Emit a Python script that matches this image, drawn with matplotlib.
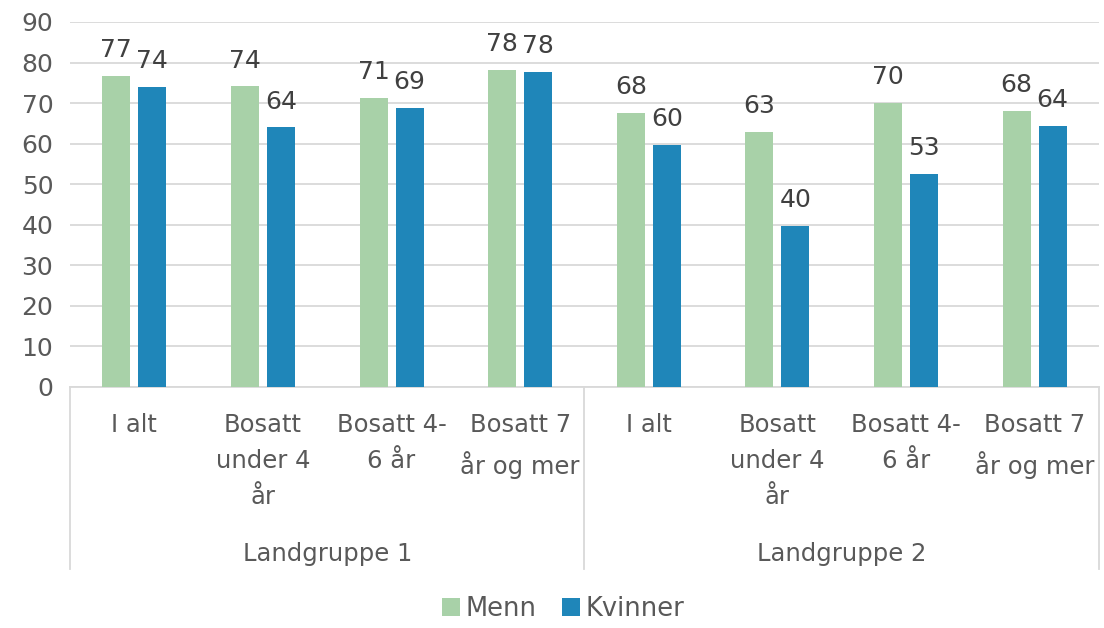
import matplotlib.pyplot as plt
import numpy as np

groups = ['Landgruppe 1', 'Landgruppe 2']
categories = ['I alt', 'Bosatt\nunder 4\når', 'Bosatt 4-\n6 år', 'Bosatt 7\når og mer']
menn = [76.6, 74.1, 71.2, 78.1, 67.6, 62.8, 70.0, 68.0]
kvinner = [73.9, 64.0, 68.9, 77.7, 59.6, 39.6, 52.6, 64.3]

green = '#a8d1a8'
blue = '#1f86b9'

plt.rcParams['font.family'] = ['DejaVu Sans']

fig = plt.figure(figsize=(11.04, 6.28), dpi=100)
ax = fig.add_axes([0.0634, 0.3838, 0.932, 0.5812])

n = len(menn)
x = np.arange(n)
w = 0.218
off = 0.14
b1 = ax.bar(x - off, menn, w, color=green, label='Menn', zorder=3)
b2 = ax.bar(x + off, kvinner, w, color=blue, label='Kvinner', zorder=3)

for bars in (b1, b2):
    for r in bars:
        ax.annotate('%.0f' % r.get_height(), (r.get_x() + r.get_width() / 2, r.get_height()),
                    xytext=(0, 10), textcoords='offset points', ha='center', va='bottom',
                    fontsize=18, color='#404040')

ax.set_ylim(0, 90)
ax.set_xlim(-0.5, n - 0.5)
ax.set_yticks(range(0, 91, 10))
ax.tick_params(axis='y', labelsize=18, colors='#595959', length=0, pad=12)
ax.set_xticks([])
ax.grid(axis='y', color='#d9d9d9', linewidth=1.3, zorder=0)
for s in ['top', 'right', 'left']:
    ax.spines[s].set_visible(False)
ax.spines['bottom'].set_color('#d9d9d9')
ax.spines['bottom'].set_linewidth(1.3)

# multi-level category axis
trans = ax.get_xaxis_transform()
for i in range(n):
    ax.text(i, -0.07, categories[i % 4], transform=trans, ha='center', va='top',
            fontsize=17.5, color='#595959', linespacing=1.65)
for g, name in enumerate(groups):
    ax.text(g * 4 + 1.5, -0.425, name, transform=trans, ha='center', va='top',
            fontsize=17.5, color='#595959')
for xb in [-0.5, 3.5, 7.5]:
    ax.plot([xb, xb], [0, -0.50], transform=trans, color='#d9d9d9', lw=1.3, clip_on=False)

fig.legend(handles=[b1, b2], labels=['Menn', 'Kvinner'], loc='center', bbox_to_anchor=(0.51, 0.03),
           ncol=2, frameon=False, fontsize=18.5, handlelength=0.7, handleheight=0.7,
           handletextpad=0.2, columnspacing=1.0, labelcolor='#595959')

fig.savefig('out.png', dpi=100)
